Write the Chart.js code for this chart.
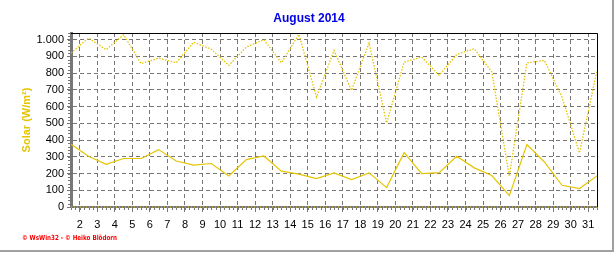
<!DOCTYPE html>
<html>
<head>
<meta charset="utf-8">
<script src="https://cdn.jsdelivr.net/npm/chart.js@4.4.1/dist/chart.umd.min.js"></script>
<style>
  html, body { margin: 0; padding: 0; background: #ffffff; }
  #wrap { position: relative; width: 616px; height: 253px; }
  canvas { display: block; }
</style>
</head>
<body>
<div id="wrap"><canvas id="c" width="616" height="253"></canvas></div>
<script>
// ---- data ----
const days = [1,2,3,4,5,6,7,8,9,10,11,12,13,14,15,16,17,18,19,20,21,22,23,24,25,26,27,28,29,30,31];
const solarMax = [920,1010,940,1030,857,890,862,985,943,846,956,1000,862,1032,657,936,697,980,502,866,896,787,912,946,807,184,862,876,657,323,817];
const solarAvg = [375,303,255,290,290,343,275,250,260,186,283,305,214,196,170,204,164,204,116,325,200,205,303,234,188,68,373,269,130,110,186];
const solarMin = [0,0,0,0,0,0,0,0,0,0,0,0,0,0,0,0,0,0,0,0,0,0,0,0,0,0,0,0,0,0,0];
const xTickLabels = [2,3,4,5,6,7,8,9,10,11,12,13,14,15,16,17,18,19,20,21,22,23,24,25,26,27,28,29,30,31];
const yTickValues = [0,100,200,300,400,500,600,700,800,900,1000];
const titleText = 'August 2014';
const yTitleText = 'Solar (W/m²)';
const creditText = '© WsWin32 - © Heiko Blödorn';

const LINE = 'rgb(230,196,0)';
const GRID = '#777777';

// each daily value sits at the middle of its day
const pts = arr => days.map((d, i) => ({ x: d + 0.5, y: arr[i] }));

const decor = {
  id: 'decor',
  beforeDraw(chart) {
    const ctx = chart.ctx;
    ctx.save();
    ctx.fillStyle = '#ffffff';
    ctx.fillRect(0, 0, chart.width, chart.height);
    ctx.restore();
  },
  afterDraw(chart) {
    const ctx = chart.ctx;
    const a = chart.chartArea;
    const xs = chart.scales.x, ys = chart.scales.y;
    ctx.save();
    // top and right frame
    ctx.strokeStyle = '#000000';
    ctx.lineWidth = 1;
    ctx.beginPath();
    ctx.moveTo(a.left, a.top + 0.5);
    ctx.lineTo(a.right + 0.5, a.top + 0.5);
    ctx.lineTo(a.right + 0.5, a.bottom);
    ctx.stroke();
    // minor ticks on x axis
    ctx.strokeStyle = GRID;
    ctx.beginPath();
    for (let v = xs.min; v <= xs.max + 1e-6; v += 0.25) {
      const px = Math.round(xs.getPixelForValue(v)) + 0.5;
      ctx.moveTo(px, a.bottom + 1);
      ctx.lineTo(px, a.bottom + 3);
    }
    // minor ticks on y axis
    for (let v = 0; v <= ys.max; v += 20) {
      const py = Math.round(ys.getPixelForValue(v)) + 0.5;
      ctx.moveTo(a.left - 3, py);
      ctx.lineTo(a.left - 1, py);
    }
    ctx.stroke();
    // title
    ctx.fillStyle = '#0000e6';
    ctx.font = 'bold 12px "Liberation Sans", Arial, sans-serif';
    ctx.textAlign = 'center';
    ctx.textBaseline = 'middle';
    ctx.fillText(titleText, 309, 19);
    // y axis title
    ctx.save();
    ctx.translate(27, (a.top + a.bottom) / 2);
    ctx.rotate(-Math.PI / 2);
    ctx.fillStyle = LINE;
    ctx.font = 'bold 11px "Liberation Sans", Arial, sans-serif';
    ctx.fillText(yTitleText, 0, 0);
    ctx.restore();
    // credit
    ctx.fillStyle = '#ff0000';
    ctx.font = 'bold 7px "DejaVu Sans", sans-serif';
    ctx.textAlign = 'left';
    ctx.fillText(creditText, 22, 238, 95);
    // outer shadow border
    ctx.fillStyle = '#a0a0a0';
    ctx.fillRect(612, 0, 2, 252);
    ctx.fillRect(0, 250, 614, 2);
    ctx.restore();
  }
};

new Chart(document.getElementById('c'), {
  type: 'line',
  data: {
    datasets: [
      { label: 'Solar max', data: pts(solarMax), borderColor: LINE, borderWidth: 1.3,
        borderDash: [1.5, 1.5], pointRadius: 0, tension: 0, fill: false },
      { label: 'Solar mittel', data: pts(solarAvg), borderColor: LINE, borderWidth: 1.2,
        pointRadius: 0, tension: 0, fill: false },
      { label: 'Solar min', data: pts(solarMin), borderColor: LINE, borderWidth: 1.2,
        borderDash: [1, 2], pointRadius: 0, tension: 0, fill: false, clip: 3 }
    ]
  },
  options: {
    responsive: false,
    animation: false,
    devicePixelRatio: 1,
    layout: { padding: { top: 33, left: 0, right: 19, bottom: 16 } },
    plugins: { legend: { display: false }, tooltip: { enabled: false }, title: { display: false } },
    scales: {
      x: {
        type: 'linear',
        min: 1.5, max: 31.5,
        afterBuildTicks: s => { s.ticks = xTickLabels.map(v => ({ value: v })); },
        afterFit: s => { s.height = 30; },
        ticks: { autoSkip: false, maxRotation: 0, padding: 6, color: '#000',
                 font: { family: '"Liberation Sans", Arial, sans-serif', size: 11 },
                 callback: v => String(v) },
        grid: { color: GRID, lineWidth: 1, tickLength: 5, tickColor: GRID, tickBorderDash: [] },
        border: { color: GRID, width: 2, dash: [4, 3] }
      },
      y: {
        min: 0, max: 1040,
        afterBuildTicks: s => { s.ticks = yTickValues.map(v => ({ value: v })); },
        afterFit: s => { s.width = 71; },
        ticks: { padding: 3, color: '#000',
                 font: { family: '"Liberation Sans", Arial, sans-serif', size: 11 },
                 callback: v => v >= 1000 ? Math.floor(v / 1000) + '.' + String(v % 1000).padStart(3, '0') : String(v) },
        grid: { color: GRID, lineWidth: 1, tickLength: 4, tickColor: GRID, tickBorderDash: [] },
        border: { color: GRID, width: 3, dash: [4, 3] }
      }
    }
  },
  plugins: [decor]
});
</script>
</body>
</html>
